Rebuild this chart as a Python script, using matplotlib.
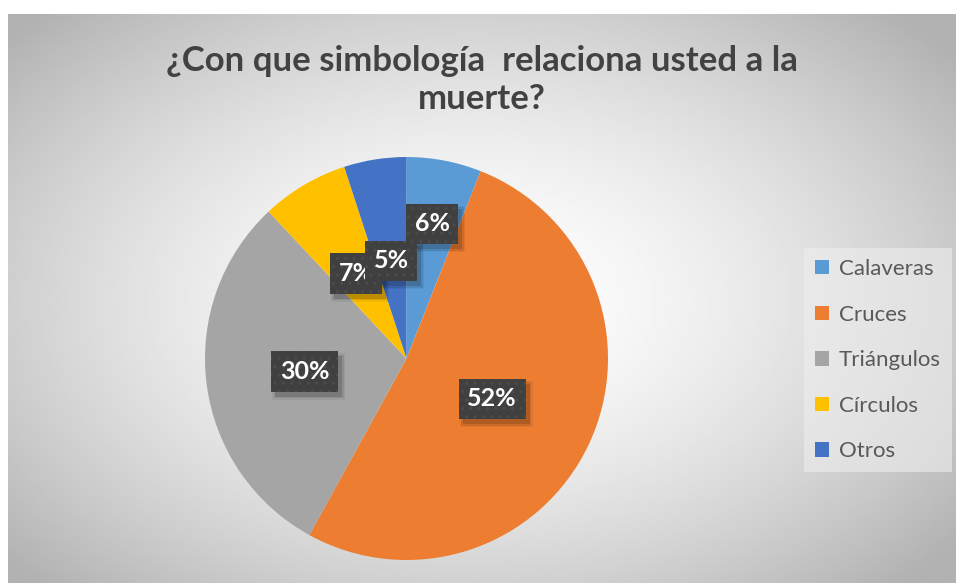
import numpy as np
import matplotlib
matplotlib.use('Agg')
import matplotlib.pyplot as plt
from matplotlib.patches import Patch, Rectangle
from matplotlib.transforms import IdentityTransform

categories = ['Calaveras', 'Cruces', 'Triángulos', 'Círculos', 'Otros']
values = [6, 52, 30, 7, 5]
colors = ['#5B9BD5', '#ED7D31', '#A5A5A5', '#FFC000', '#4472C4']
label_dist = [0.68, 0.47, 0.51, 0.49, 0.49]
title = '¿Con que simbología  relaciona usted a la\nmuerte?'

W, H = 958, 583
plt.rcParams['font.family'] = ['Lato', 'DejaVu Sans']

fig = plt.figure(figsize=(W / 100, H / 100), dpi=100)
fig.patch.set_facecolor('white')

# radial gradient background of the chart area
bg = fig.add_axes([0, 0, 1, 1])
bg.set_xlim(0, W)
bg.set_ylim(H, 0)
bg.axis('off')
x0, x1, y0, y1 = 8, 956, 14, 583
xx, yy = np.meshgrid(np.linspace(x0, x1, 400), np.linspace(y0, y1, 300))
d = np.sqrt(((xx - 470) / 520) ** 2 + ((yy - 300) / 330) ** 2)
shade = 255 - 58 * np.clip(d, 0, 1.2) ** 1.6
bg.imshow(shade, cmap='gray', vmin=0, vmax=255, extent=(x0, x1, y1, y0),
          aspect='auto', interpolation='bilinear')

# pie
cx, cy, r = 406.5, 358.5, 201.5
ax = fig.add_axes([(cx - r) / W, (H - cy - r) / H, 2 * r / W, 2 * r / H])
wedges, _ = ax.pie(values, colors=colors, startangle=90, counterclock=False,
                   radius=1, wedgeprops=dict(linewidth=0))
ax.set_xlim(-1, 1)
ax.set_ylim(-1, 1)
ax.set_aspect('equal')
ax.axis('off')

labels = []
for w, v, dist in zip(wedges, values, label_dist):
    ang = np.deg2rad((w.theta1 + w.theta2) / 2)
    t = ax.text(dist * np.cos(ang), dist * np.sin(ang), f'{v}%',
                ha='center', va='center', color='white',
                fontsize=18, fontweight='bold', clip_on=False, zorder=5,
                bbox=dict(boxstyle='square,pad=0.35', facecolor='#404040',
                          edgecolor='#4c4c4c', linewidth=0, hatch='..'))
    labels.append(t)

# soft drop shadows behind the label boxes (pixel coordinates)
fig.canvas.draw()
for t in labels:
    bb = t.get_bbox_patch().get_window_extent()
    for grow, a in [(0, 0.14), (1.5, 0.09), (3, 0.05)]:
        shadow = Rectangle((bb.x0 + 4 - grow, bb.y0 - 5 - grow),
                           bb.width + 2 * grow, bb.height + 2 * grow,
                           facecolor='black', alpha=a, linewidth=0,
                           zorder=4, clip_on=False)
        shadow.set_transform(IdentityTransform())
        ax.add_artist(shadow)

fig.text(482 / W, 1 - 80 / H, title, ha='center', va='center',
         fontsize=25, fontweight='bold', color='#424242', linespacing=1.2)

handles = [Patch(facecolor=c, edgecolor='none') for c in colors]
leg = fig.legend(handles, categories, loc='upper left',
                 bbox_to_anchor=(804 / W, 1 - 248 / H), frameon=True,
                 fontsize=16, labelspacing=1.15, handlelength=0.62,
                 handleheight=0.62, handletextpad=0.45, borderpad=0.5,
                 borderaxespad=0, fancybox=False)
leg.get_frame().set_facecolor('#eeeeee')
leg.get_frame().set_alpha(0.6)
leg.get_frame().set_linewidth(0)
for txt in leg.get_texts():
    txt.set_color('#595959')

fig.savefig('out.png', dpi=100)
